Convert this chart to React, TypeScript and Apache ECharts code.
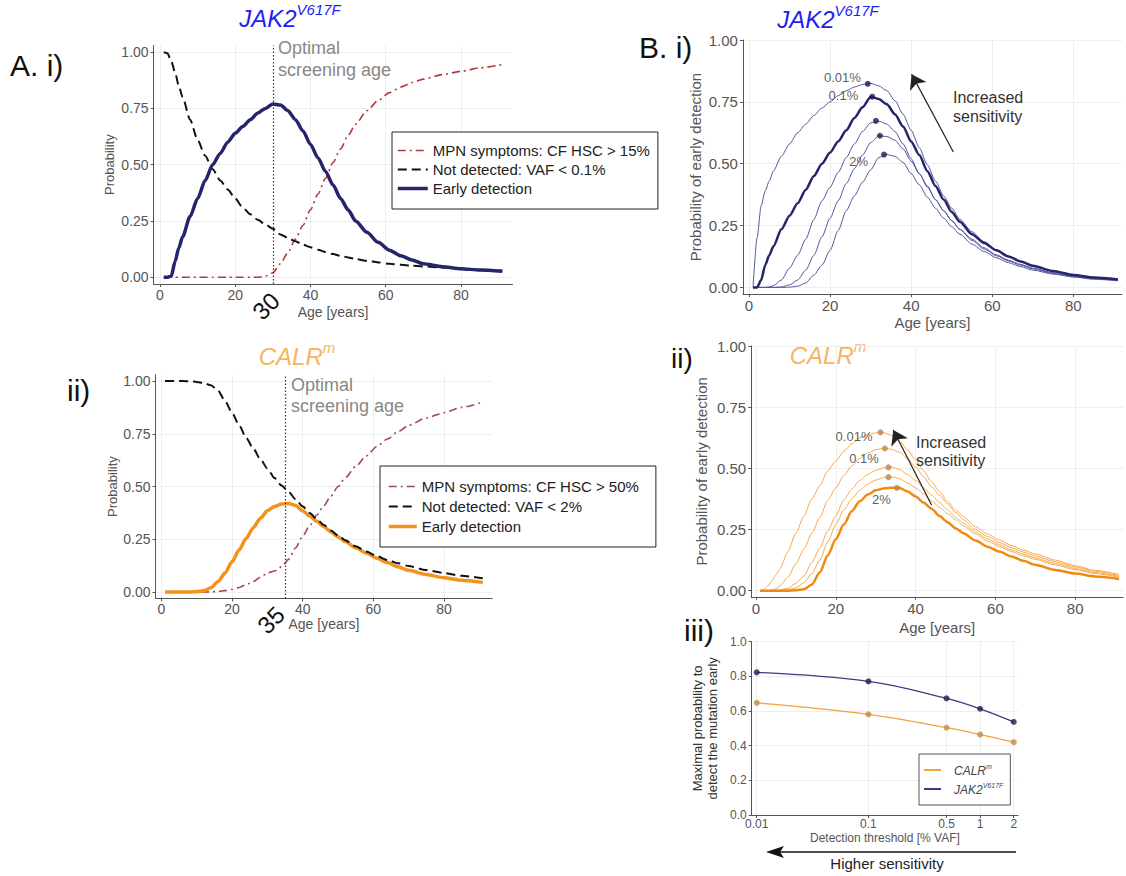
import { useEffect, useRef } from 'react';
import * as echarts from 'echarts';

// ---------------- data ----------------
const ages = [1, 2, 3, 4, 5, 6, 8, 10, 12, 14, 16, 18, 20, 22, 24, 26, 28, 30, 32, 34, 36, 38, 40, 42, 44, 46, 48, 50, 52, 55, 58, 61, 64, 67, 70, 75, 80, 85, 91];
const ageTicks = [0, 20, 40, 60, 80];
const probTicks = [0, 0.25, 0.5, 0.75, 1];
const maxProbTicks = [0, 0.2, 0.4, 0.6, 0.8, 1.0];
const thresholds = [0.01, 0.1, 0.5, 1, 2]; // % VAF
const optimalAgeJak = 30;
const optimalAgeCalr = 35;

// Panel A.i  (JAK2 V617F)
const jakMpnA = [0, 0, 0, 0, 0, 0, 0, 0, 0, 0, 0, 0, 0, 0, 0, 0, 0.005, 0.02, 0.06, 0.11, 0.17, 0.23, 0.3, 0.37, 0.44, 0.51, 0.57, 0.63, 0.68, 0.74, 0.785, 0.82, 0.845, 0.865, 0.88, 0.9, 0.915, 0.93, 0.945];
const jakNotDetA = [1, 0.995, 0.96, 0.91, 0.85, 0.8, 0.7, 0.61, 0.54, 0.48, 0.43, 0.39, 0.35, 0.31, 0.28, 0.255, 0.235, 0.215, 0.19, 0.175, 0.16, 0.145, 0.133, 0.122, 0.112, 0.103, 0.095, 0.088, 0.081, 0.073, 0.066, 0.06, 0.055, 0.051, 0.048, 0.043, 0.038, 0.033, 0.029];
const jakEarlyA = [0, 0, 0.005, 0.07, 0.13, 0.18, 0.27, 0.35, 0.43, 0.5, 0.55, 0.6, 0.64, 0.67, 0.7, 0.73, 0.75, 0.77, 0.765, 0.74, 0.7, 0.65, 0.59, 0.53, 0.47, 0.41, 0.35, 0.3, 0.25, 0.2, 0.155, 0.12, 0.095, 0.077, 0.06, 0.047, 0.038, 0.032, 0.027];

// Panel A.ii (CALR m)
const calrMpnA = [0, 0, 0, 0, 0, 0, 0, 0, 0, 0.001, 0.003, 0.007, 0.013, 0.022, 0.035, 0.05, 0.07, 0.09, 0.1, 0.12, 0.155, 0.21, 0.265, 0.315, 0.365, 0.41, 0.455, 0.5, 0.54, 0.595, 0.645, 0.69, 0.725, 0.76, 0.79, 0.825, 0.85, 0.875, 0.9];
const calrNotDetA = [1, 1, 1, 1, 1, 1, 0.999, 0.996, 0.99, 0.98, 0.955, 0.905, 0.85, 0.79, 0.73, 0.68, 0.63, 0.585, 0.54, 0.505, 0.475, 0.44, 0.405, 0.375, 0.345, 0.318, 0.292, 0.268, 0.246, 0.217, 0.192, 0.17, 0.152, 0.137, 0.123, 0.104, 0.09, 0.077, 0.065];
const calrEarlyA = [0, 0, 0, 0, 0, 0, 0, 0.002, 0.006, 0.02, 0.05, 0.09, 0.145, 0.2, 0.255, 0.305, 0.35, 0.385, 0.405, 0.417, 0.42, 0.41, 0.385, 0.36, 0.335, 0.31, 0.285, 0.262, 0.24, 0.21, 0.185, 0.16, 0.14, 0.12, 0.103, 0.083, 0.068, 0.056, 0.046];

// Panel B.i  early detection by threshold (0.01, 0.1, 0.5, 1, 2 % VAF)
const jak001 = [0, 0.2, 0.33, 0.39, 0.43, 0.47, 0.53, 0.58, 0.625, 0.66, 0.695, 0.725, 0.75, 0.775, 0.795, 0.81, 0.82, 0.825, 0.815, 0.795, 0.755, 0.7, 0.635, 0.565, 0.495, 0.43, 0.37, 0.32, 0.275, 0.225, 0.185, 0.152, 0.125, 0.103, 0.086, 0.066, 0.051, 0.041, 0.033];
const jak01 = [0, 0, 0.03, 0.09, 0.13, 0.165, 0.235, 0.29, 0.34, 0.395, 0.45, 0.5, 0.545, 0.59, 0.635, 0.685, 0.728, 0.77, 0.762, 0.74, 0.7, 0.65, 0.59, 0.535, 0.47, 0.41, 0.355, 0.305, 0.265, 0.215, 0.18, 0.15, 0.125, 0.105, 0.088, 0.066, 0.05, 0.04, 0.032];
const jak05 = [0, 0, 0, 0, 0.002, 0.007, 0.03, 0.078, 0.13, 0.195, 0.275, 0.35, 0.405, 0.465, 0.525, 0.58, 0.63, 0.665, 0.672, 0.66, 0.63, 0.58, 0.52, 0.46, 0.41, 0.355, 0.31, 0.27, 0.235, 0.195, 0.16, 0.132, 0.11, 0.093, 0.078, 0.06, 0.046, 0.037, 0.03];
const jak1 = [0, 0, 0, 0, 0, 0, 0.002, 0.01, 0.03, 0.07, 0.13, 0.205, 0.28, 0.35, 0.42, 0.48, 0.535, 0.585, 0.613, 0.61, 0.595, 0.56, 0.51, 0.46, 0.405, 0.355, 0.31, 0.27, 0.235, 0.19, 0.155, 0.128, 0.107, 0.09, 0.075, 0.057, 0.044, 0.035, 0.028];
const jak2 = [0, 0, 0, 0, 0, 0, 0, 0.001, 0.005, 0.018, 0.05, 0.09, 0.15, 0.23, 0.31, 0.37, 0.425, 0.475, 0.525, 0.537, 0.53, 0.505, 0.46, 0.415, 0.365, 0.32, 0.28, 0.245, 0.215, 0.175, 0.145, 0.12, 0.1, 0.084, 0.07, 0.054, 0.042, 0.033, 0.027];

// Panel B.ii
const cal001 = [0, 0.005, 0.02, 0.04, 0.065, 0.09, 0.16, 0.235, 0.305, 0.375, 0.43, 0.49, 0.53, 0.57, 0.6, 0.625, 0.638, 0.645, 0.645, 0.635, 0.61, 0.575, 0.535, 0.49, 0.445, 0.405, 0.365, 0.33, 0.302, 0.262, 0.232, 0.207, 0.185, 0.166, 0.15, 0.125, 0.102, 0.083, 0.066];
const cal01 = [0, 0, 0, 0.003, 0.008, 0.02, 0.055, 0.11, 0.17, 0.235, 0.3, 0.37, 0.42, 0.47, 0.51, 0.54, 0.562, 0.576, 0.582, 0.578, 0.565, 0.54, 0.505, 0.465, 0.425, 0.39, 0.355, 0.32, 0.29, 0.25, 0.222, 0.197, 0.176, 0.158, 0.142, 0.118, 0.097, 0.079, 0.062];
const cal05 = [0, 0, 0, 0, 0.001, 0.003, 0.01, 0.03, 0.06, 0.115, 0.175, 0.245, 0.305, 0.37, 0.415, 0.45, 0.475, 0.492, 0.502, 0.505, 0.495, 0.475, 0.45, 0.42, 0.39, 0.36, 0.33, 0.3, 0.275, 0.24, 0.212, 0.188, 0.167, 0.15, 0.134, 0.111, 0.091, 0.074, 0.058];
const cal1 = [0, 0, 0, 0, 0, 0, 0.004, 0.012, 0.032, 0.07, 0.125, 0.2, 0.27, 0.33, 0.375, 0.41, 0.435, 0.452, 0.462, 0.465, 0.458, 0.44, 0.42, 0.395, 0.368, 0.34, 0.315, 0.29, 0.265, 0.232, 0.203, 0.18, 0.16, 0.143, 0.128, 0.105, 0.086, 0.07, 0.055];
const cal2 = [0, 0, 0, 0, 0, 0, 0, 0.002, 0.006, 0.025, 0.075, 0.145, 0.21, 0.27, 0.325, 0.365, 0.393, 0.41, 0.418, 0.421, 0.42, 0.405, 0.385, 0.36, 0.335, 0.305, 0.28, 0.255, 0.235, 0.205, 0.18, 0.16, 0.14, 0.122, 0.106, 0.085, 0.07, 0.058, 0.048];

// Panel B.iii: maximal probability and the age at which it is reached
const jakMax = [0.823, 0.771, 0.673, 0.613, 0.537];
const calrMax = [0.647, 0.581, 0.504, 0.464, 0.42];
const jakPeakAges = [29.3, 30.4, 31.3, 32.3, 33.3];
const calrPeakAges = [31.2, 32.3, 33.2, 33.2, 35.3];

// arrows ("Increased sensitivity"), in data coordinates [age, probability]
const jakArrow = [[50.4, 0.547], [40.1, 0.862]];
const calrArrow = [[44.0, 0.35], [34.4, 0.657]];

// ---------------- styling ----------------
const FONT = '"Liberation Sans", Arial, Helvetica, sans-serif';
const AXIS = '#555';
const LABEL = '#555';
const GRID = '#eeeeee';
const NAVY = '#25256d';
const NAVY_THIN = '#55559c';
const ORANGE = '#f5921c';
const ORANGE_THIN = '#f6a94a';
const BLUE_TITLE = '#1f1ff0';
const ORANGE_TITLE = '#f7b462';

const pair = (ys: number[]) => ages.map((a, i) => [a, ys[i]]);

function ageAxis(gridIndex: number, min: number, max: number, fontSize: number, nameGap: number, nameSize: number) {
  return {
    type: 'value', gridIndex, min, max,
    axisLine: { show: true, onZero: false, lineStyle: { color: AXIS, width: 1 } },
    axisTick: { show: true, customValues: ageTicks, length: 3, lineStyle: { color: AXIS } },
    axisLabel: { customValues: ageTicks, color: LABEL, fontSize, fontFamily: FONT, margin: 4 },
    splitLine: { show: true, lineStyle: { color: GRID, width: 1 } },
    name: 'Age [years]', nameLocation: 'middle', nameGap,
    nameTextStyle: { color: '#555', fontSize: nameSize, fontFamily: FONT },
  };
}

function valAxis(gridIndex: number, min: number, max: number, ticks: number[], digits: number, fontSize: number, name: string, nameGap: number, nameSize: number, extra: any = {}) {
  return {
    type: 'value', gridIndex, min, max,
    axisLine: { show: true, onZero: false, lineStyle: { color: AXIS, width: 1 } },
    axisTick: { show: true, customValues: ticks, length: 3, lineStyle: { color: AXIS } },
    axisLabel: { customValues: ticks, color: LABEL, fontSize, fontFamily: FONT, margin: 5, formatter: (v: number) => v.toFixed(digits) },
    splitLine: { show: true, lineStyle: { color: GRID, width: 1 } },
    name, nameLocation: 'middle', nameGap,
    nameTextStyle: { color: '#555', fontSize: nameSize, fontFamily: FONT, ...extra },
  };
}

function line(name: string, grid: number, ys: number[], color: string, width: number, type: any = 'solid', z = 2) {
  return {
    type: 'line', name, xAxisIndex: grid, yAxisIndex: grid, data: pair(ys),
    symbol: 'none', showSymbol: false, smooth: 0.25, smoothMonotone: 'x', z,
    lineStyle: { color, width, type }, itemStyle: { color },
  };
}

const optimalLine = (age: number) => ({
  silent: true, symbol: ['none', 'none'], label: { show: false },
  lineStyle: { color: '#333', type: [1.5, 2], width: 1.2 },
  data: [{ xAxis: age }],
});

const arrowLine = (arr: number[][]) => ({
  silent: true, symbol: ['none', 'arrow'], symbolSize: 14, label: { show: false },
  lineStyle: { color: '#222', type: 'solid', width: 1.2 },
  data: [[{ coord: arr[0] }, { coord: arr[1] }]],
});

const jakLabelPos: any = {
  0: { distance: 4, offset: [0, -6] },
  1: { distance: 11, offset: [0, -1] },
  4: { distance: 13, offset: [0, 7] },
};
const calrLabelPos: any = {
  0: { distance: 5, offset: [0, 4] },
  1: { distance: 3, offset: [0, 10] },
  4: { distance: 3, offset: [0, 12] },
};

function peakDots(grid: number, peakAges: number[], maxes: number[], color: string, labelPos: any) {
  return {
    type: 'scatter', name: 'peaks' + grid, xAxisIndex: grid, yAxisIndex: grid, z: 5,
    symbol: 'circle', symbolSize: 6, itemStyle: { color },
    data: peakAges.map((a, i) => ({
      value: [a, maxes[i]],
      label: labelPos[i]
        ? { show: true, position: 'left', formatter: `${thresholds[i]}%`, color: '#333', fontSize: 13, fontFamily: FONT, ...labelPos[i] }
        : { show: false },
    })),
  };
}

const txt = (x: number, y: number, text: string, font: string, fill: string, extra: any = {}, rotation = 0) => ({
  type: 'text', x, y, rotation, silent: true, z: 100,
  style: { text, font, fill, align: 'left', verticalAlign: 'middle', ...extra },
});

const titleRich = (main: string, sup: string, color: string) => ({
  text: `{a|${main}}{b|${sup}}`,
  align: 'center', verticalAlign: 'middle',
  rich: {
    a: { fontSize: 24, fontStyle: 'italic', fontFamily: FONT, fill: color, color, lineHeight: 28, verticalAlign: 'bottom' },
    b: { fontSize: 15, fontStyle: 'italic', fontFamily: FONT, fill: color, color, lineHeight: 16, verticalAlign: 'top' },
  },
});

const legendItem = (name: string, width: number) => ({ name, lineStyle: { width } });

function buildOption(): any {
  const legendCommon = {
    orient: 'vertical', selectedMode: false, backgroundColor: '#fff',
    borderColor: '#222', borderWidth: 1, borderRadius: 0, z: 50,
    itemStyle: { opacity: 0 },
  };
  return {
    animation: false,
    backgroundColor: '#fff',
    grid: [
      { left: 153.6, top: 45.4, width: 358.9, height: 238.6, outerBoundsMode: 'none' },
      { left: 155.5, top: 374.7, width: 336.8, height: 223.7, outerBoundsMode: 'none' },
      { left: 742.9, top: 40, width: 379.1, height: 254.1, outerBoundsMode: 'none' },
      { left: 751.2, top: 346, width: 371.9, height: 250.8, outerBoundsMode: 'none' },
      { left: 751.7, top: 641.7, width: 266.4, height: 173.3, outerBoundsMode: 'none' },
    ],
    xAxis: [
      ageAxis(0, -1.7, 93.7, 14, 21, 14),
      ageAxis(1, -1.7, 93.7, 14, 18, 14),
      ageAxis(2, -1.5, 92, 15, 21, 15),
      ageAxis(3, -1.2, 92, 15, 23, 15),
      {
        type: 'value', gridIndex: 4, min: -2.045, max: 0.34,
        axisLine: { show: true, onZero: false, lineStyle: { color: AXIS, width: 1 } },
        axisTick: { show: true, customValues: thresholds.map(Math.log10), length: 3, lineStyle: { color: AXIS } },
        axisLabel: {
          customValues: thresholds.map(Math.log10), color: LABEL, fontSize: 12, fontFamily: FONT, margin: 3,
          formatter: (v: number) => String(+Math.pow(10, v).toPrecision(2)),
        },
        splitLine: { show: true, lineStyle: { color: GRID, width: 1 } },
        name: 'Detection threshold [% VAF]', nameLocation: 'middle', nameGap: 17,
        nameTextStyle: { color: '#555', fontSize: 12, fontFamily: FONT },
      },
    ],
    yAxis: [
      valAxis(0, -0.03, 1.03, probTicks, 2, 14, 'Probability', 38, 13),
      valAxis(1, -0.03, 1.03, probTicks, 2, 14, 'Probability', 36, 13),
      valAxis(2, -0.027, 1.0, probTicks, 2, 15, 'Probability of early detection', 40, 15),
      valAxis(3, -0.025, 1.0, probTicks, 2, 15, 'Probability of early detection', 42, 15),
      valAxis(4, 0, 1.0, maxProbTicks, 1, 12, 'Maximal probability to\ndetect the mutation early', 32, 13, { lineHeight: 15, color: '#333' }),
    ],
    legend: [
      {
        ...legendCommon, left: 392, top: 132, itemWidth: 30, itemHeight: 14, itemGap: 4, padding: [11, 8, 13, 4],
        data: [
          legendItem('MPN symptoms: CF HSC > 15%', 1.6),
          legendItem('Not detected: VAF < 0.1%', 2.2),
          legendItem('Early detection (JAK2)', 3.5),
        ],
        formatter: (n: string) => n.replace(/ \(.*\)$/, ''),
        textStyle: { fontSize: 15, color: '#222', fontFamily: FONT },
      },
      {
        ...legendCommon, left: 380, top: 466, itemWidth: 28, itemHeight: 14, itemGap: 5, padding: [13, 17, 13, 7],
        data: [
          legendItem('MPN symptoms: CF HSC > 50%', 1.6),
          legendItem('Not detected: VAF < 2%', 2.2),
          legendItem('Early detection (CALR)', 3.5),
        ],
        formatter: (n: string) => n.replace(/ \(.*\)$/, ''),
        textStyle: { fontSize: 15, color: '#222', fontFamily: FONT },
      },
      {
        ...legendCommon, borderColor: '#555', left: 919, top: 754, itemWidth: 17, itemHeight: 10, itemGap: 5, padding: [9, 7, 9, 4],
        data: ['CALRm', 'JAK2V617F'],
        formatter: (n: string) => (n === 'CALRm' ? '{i|CALR}{s|m}' : '{i|JAK2}{s|V617F}'),
        textStyle: {
          padding: [0, 0, 0, 8],
          rich: {
            i: { fontSize: 12, fontStyle: 'italic', color: '#444', fontFamily: FONT, lineHeight: 14, verticalAlign: 'bottom' },
            s: { fontSize: 7, fontStyle: 'italic', color: '#444', fontFamily: FONT, lineHeight: 8, verticalAlign: 'top' },
          },
        },
      },
    ],
    series: [
      // A.i
      line('MPN symptoms: CF HSC > 15%', 0, jakMpnA, '#b23a3a', 1.6, [8, 4, 2, 4]),
      line('Not detected: VAF < 0.1%', 0, jakNotDetA, '#111', 2, [9, 5]),
      { ...line('Early detection (JAK2)', 0, jakEarlyA, NAVY, 3.5, 'solid', 3), markLine: optimalLine(optimalAgeJak) },
      // A.ii
      line('MPN symptoms: CF HSC > 50%', 1, calrMpnA, '#a0465a', 1.6, [8, 4, 2, 4]),
      line('Not detected: VAF < 2%', 1, calrNotDetA, '#111', 2, [9, 5], 4),
      { ...line('Early detection (CALR)', 1, calrEarlyA, ORANGE, 3.5, 'solid', 3), markLine: optimalLine(optimalAgeCalr) },
      // B.i
      line('jak 0.01%', 2, jak001, NAVY_THIN, 1),
      line('jak 0.5%', 2, jak05, NAVY_THIN, 1),
      line('jak 1%', 2, jak1, NAVY_THIN, 1),
      line('jak 2%', 2, jak2, NAVY_THIN, 1),
      { ...line('jak 0.1%', 2, jak01, NAVY, 2.5, 'solid', 3), markLine: arrowLine(jakArrow) },
      peakDots(2, jakPeakAges, jakMax, '#1c1c4c', jakLabelPos),
      // B.ii
      line('calr 0.01%', 3, cal001, ORANGE_THIN, 1),
      line('calr 0.1%', 3, cal01, ORANGE_THIN, 1),
      line('calr 0.5%', 3, cal05, ORANGE_THIN, 1),
      line('calr 1%', 3, cal1, ORANGE_THIN, 1),
      { ...line('calr 2%', 3, cal2, '#f08a10', 2.5, 'solid', 3), markLine: arrowLine(calrArrow) },
      peakDots(3, calrPeakAges, calrMax, '#b8864b', calrLabelPos),
      // B.iii
      {
        type: 'line', name: 'CALRm', xAxisIndex: 4, yAxisIndex: 4, symbol: 'none', smooth: 0.4,
        data: thresholds.map((t, i) => [Math.log10(t), calrMax[i]]),
        lineStyle: { color: '#f2a43a', width: 1.3 }, itemStyle: { color: '#f2a43a' },
      },
      {
        type: 'line', name: 'JAK2V617F', xAxisIndex: 4, yAxisIndex: 4, symbol: 'none', smooth: 0.4,
        data: thresholds.map((t, i) => [Math.log10(t), jakMax[i]]),
        lineStyle: { color: '#3c3c82', width: 1.3 }, itemStyle: { color: '#3c3c82' },
      },
      {
        type: 'scatter', name: 'calr max', xAxisIndex: 4, yAxisIndex: 4, symbolSize: 6, z: 5,
        itemStyle: { color: '#c28d40' }, data: thresholds.map((t, i) => [Math.log10(t), calrMax[i]]),
      },
      {
        type: 'scatter', name: 'jak max', xAxisIndex: 4, yAxisIndex: 4, symbolSize: 6, z: 5,
        itemStyle: { color: '#1f1f50' }, data: thresholds.map((t, i) => [Math.log10(t), jakMax[i]]),
      },
    ],
    graphic: [
      // titles
      { type: 'text', x: 290, y: 16, silent: true, style: titleRich('JAK2', 'V617F', BLUE_TITLE) },
      { type: 'text', x: 828, y: 17, silent: true, style: titleRich('JAK2', 'V617F', BLUE_TITLE) },
      { type: 'text', x: 297, y: 354, silent: true, style: titleRich('CALR', 'm', ORANGE_TITLE) },
      { type: 'text', x: 828, y: 353, silent: true, style: titleRich('CALR', 'm', ORANGE_TITLE) },
      // panel labels
      txt(10, 65, 'A. i)', `30px ${FONT}`, '#111'),
      txt(67, 390, 'ii)', `30px ${FONT}`, '#111'),
      txt(639, 47, 'B. i)', `30px ${FONT}`, '#111'),
      txt(671, 358, 'ii)', `28px ${FONT}`, '#111'),
      txt(684, 630, 'iii)', `30px ${FONT}`, '#111'),
      // optimal screening age annotations
      txt(278, 48, 'Optimal\nscreening age', `18px ${FONT}`, '#888', { lineHeight: 22, verticalAlign: 'top', y: -11 }),
      txt(291, 385, 'Optimal\nscreening age', `18px ${FONT}`, '#888', { lineHeight: 21, verticalAlign: 'top', y: -11 }),
      txt(266, 306, '30', `24px ${FONT}`, '#111', { align: 'center' }, Math.PI / 4),
      txt(271, 620, '35', `24px ${FONT}`, '#111', { align: 'center' }, Math.PI / 4),
      // increased sensitivity
      txt(953, 98, 'Increased\nsensitivity', `16px ${FONT}`, '#333', { lineHeight: 19, verticalAlign: 'top', y: -10 }),
      txt(916, 442, 'Increased\nsensitivity', `16px ${FONT}`, '#333', { lineHeight: 18, verticalAlign: 'top', y: -9 }),
      // higher sensitivity arrow (B.iii)
      { type: 'line', silent: true, shape: { x1: 1016, y1: 852, x2: 778, y2: 852 }, style: { stroke: '#111', lineWidth: 1.5 } },
      { type: 'polygon', silent: true, shape: { points: [[766, 852], [784, 846], [780, 852], [784, 858]] }, style: { fill: '#111' } },
      txt(887, 863, 'Higher sensitivity', `15px ${FONT}`, '#222', { align: 'center' }),
    ],
  };
}

export default function App() {
  const ref = useRef<HTMLDivElement>(null);
  useEffect(() => {
    const chart = echarts.init(ref.current!, null, { renderer: 'svg' });
    chart.setOption(buildOption());
    return () => chart.dispose();
  }, []);
  return (
    <div
      ref={ref}
      style={{ position: 'fixed', left: 0, top: 0, width: 1126, height: 876, background: '#fff' }}
    />
  );
}
